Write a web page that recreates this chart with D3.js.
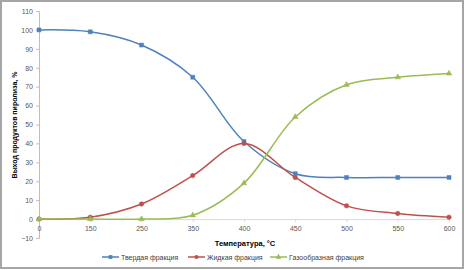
<!DOCTYPE html>
<html><head><meta charset="utf-8">
<script src="https://cdn.jsdelivr.net/npm/d3@7"></script>
<style>body{margin:0;background:#fff}svg{display:block;font-family:"Liberation Sans",Arial,sans-serif}</style>
</head><body><svg id="c" width="464" height="270"></svg>
<script>
const categories = ["0","150","250","350","400","450","500","550","600"];
const solid  = [100, 99, 92, 75, 41, 24, 22, 22, 22];
const liquid = [0, 1, 8, 23, 40, 22, 7, 3, 1];
const gas    = [0, 0, 0, 2, 19, 54, 71, 75, 77];
const yTicks = [-10,0,10,20,30,40,50,60,70,80,90,100,110];
const seriesNames = ["Твердая фракция","Жидкая фракция","Газообразная фракция"];
const colors = ["#4f81bd","#c0504d","#9bbb59"];

const svg = d3.select("#c");
svg.append("rect").attr("x",1).attr("y",1).attr("width",462).attr("height",267)
  .attr("fill","#fff").attr("stroke","#a6a6a6").attr("stroke-width",2);

const x = d3.scalePoint().domain(categories).range([39,449]);
const y = d3.scaleLinear().domain([-10,110]).range([238,11]);

// y axis
const ya = svg.append("g").attr("transform","translate(39,0)")
  .call(d3.axisLeft(y).tickValues(yTicks).tickSize(3).tickFormat(d3.format("d")));
ya.select(".domain").attr("stroke","#e0b0b0");
ya.selectAll(".tick line").attr("stroke","#e0b0b0");
ya.selectAll("text").attr("font-size",7).attr("fill","#595959").attr("x",-6);

// x axis at 0
const xa = svg.append("g").attr("transform",`translate(0,${y(0)})`)
  .call(d3.axisBottom(x).tickSize(3));
xa.select(".domain").attr("stroke","#d9d9d9");
xa.selectAll(".tick line").attr("stroke","#d9d9d9");
xa.selectAll("text").attr("font-size",7).attr("fill","#595959").attr("dy","0.9em");

const line = d3.line().x((d,i)=>x(categories[i])).y(d=>y(d)).curve(d3.curveCatmullRom.alpha(0.5));
const data = [solid, liquid, gas];
const markers = [d3.symbolSquare, d3.symbolCircle, d3.symbolTriangle];
data.forEach((s,k)=>{
  svg.append("path").attr("d",line(s)).attr("fill","none").attr("stroke",colors[k]).attr("stroke-width",1.5);
  svg.append("g").selectAll("path").data(s).join("path")
    .attr("transform",(d,i)=>`translate(${x(categories[i])},${y(d)})`)
    .attr("d",d3.symbol().type(markers[k]).size(k===2?14:16))
    .attr("fill",colors[k]).attr("stroke",colors[k]).attr("stroke-width",0.5);
});

// titles
svg.append("text").attr("x",245).attr("y",246).attr("text-anchor","middle")
  .attr("font-size",7.5).attr("font-weight","bold").attr("fill","#000").text("Температура, °С");
svg.append("text").attr("transform","translate(17,125) rotate(-90)").attr("text-anchor","middle")
  .attr("font-size",7).attr("font-weight","bold").attr("fill","#000").text("Выход продуктов пиролиза, %");

// legend
const lx = [102,188,270];
seriesNames.forEach((n,k)=>{
  const g = svg.append("g").attr("transform",`translate(${lx[k]},257)`);
  g.append("line").attr("x1",0).attr("x2",17).attr("stroke",colors[k]).attr("stroke-width",1.5);
  g.append("path").attr("transform","translate(8.5,0)").attr("d",d3.symbol().type(markers[k]).size(14)).attr("fill",colors[k]);
  g.append("text").attr("x",19).attr("y",2.5).attr("font-size",7).attr("fill","#404040").text(n);
});
</script></body></html>
